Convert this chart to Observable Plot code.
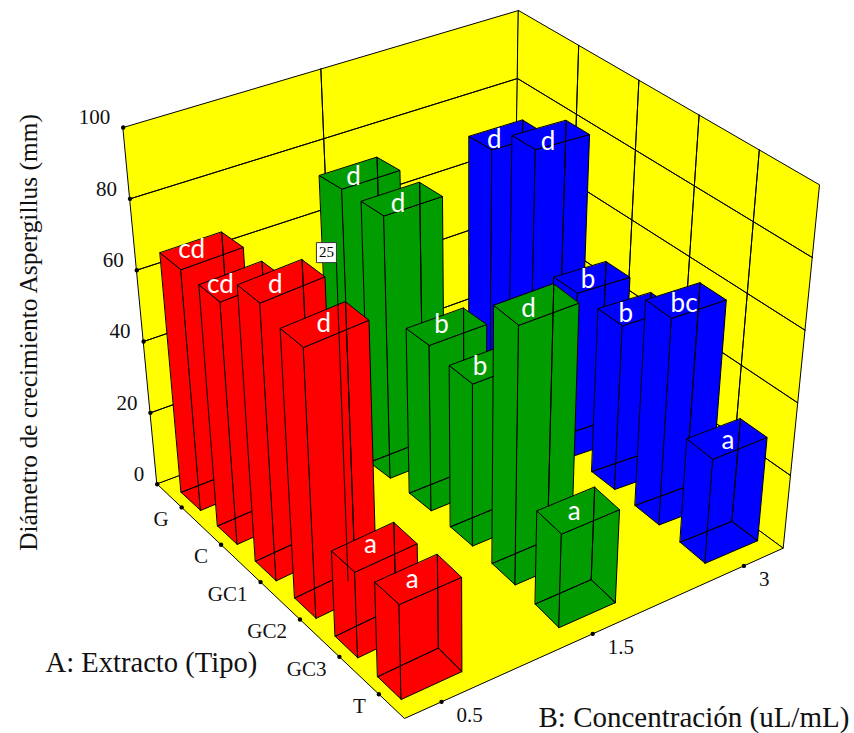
<!DOCTYPE html>
<html>
<head>
<meta charset="utf-8">
<title>Diámetro de crecimiento Aspergillus</title>
<style>html,body{margin:0;padding:0;background:#fff}svg{display:block}</style>
<script src="https://cdn.jsdelivr.net/npm/d3@7"></script>
<script src="https://cdn.jsdelivr.net/npm/@observablehq/plot@0.6"></script>
</head>
<body>
<div id="chart"></div>
<script>
const extractos = ["G","C","GC1","GC2","GC3","T"];
const concentraciones = ["0.5","1.5","3"];
const nivelesZ = [0,20,40,60,80,100];
const rojo  = [67,66.8,75.8,73.2,22.9,25.1];
const verde = [73.8,73.7,46,44.6,70.7,25.2];
const azul  = [71.5,79,46.3,45.9,57.3,28.5];
const letrasRojo  = ["cd","cd","d","d","a","a"];
const letrasVerde = ["d","d","b","b","d","a"];
const letrasAzul  = ["d","d","b","b","bc","a"];
const colores = ["#ff0000","#009c00","#0000ff"];
const series = [rojo,verde,azul];
const letras = [letrasRojo,letrasVerde,letrasAzul];
const bandera = {u:3.77,v:-0.115,w0:15.5,w1:101,texto:"25"};
const uRango=[-0.62,5.65], vRango=[-0.245,2.26], wRango=[0,100];
// depth of the view: bars sit a little off the evenly spaced ticks and grow toward the viewer
const posU=[-0.04,0.88,1.85,2.85,3.89,4.98], posV=[0.03,1.06,2.02];
const medioU=[0.246,0.249,0.263,0.272,0.287,0.301], medioV=[0.2,0.187,0.175];
// hand placement of the letters on the bar tops
const desvX=[[-10,-21,-6,-1,-4,-6],[-6,-4,-5,-10,-8,-4],[-13,-3,-4,-11,-2,1]];
const desvY=[[-0.5,3.5,3.5,-0.5,-3,0],[4,5,-2,2.6,4.4,1],[5,7,3,5,4,2]];

// View: where the eight corners of the cube fall; points inside are blended between them
const esquinas = {
  "000":[156.7,483.7],"100":[404,718],"110":[782.7,547.7],"010":[513,350],
  "001":[122.7,127],"101":[396,338],"111":[819,184.3],"011":[518,10]
};
const combaInterior=[3,-9];
const fu=u=>(u-uRango[0])/(uRango[1]-uRango[0]), fv=v=>(v-vRango[0])/(vRango[1]-vRango[0]);
function proy(u,v,w){
  const U=fu(u),V=fv(v),W=(w-wRango[0])/(wRango[1]-wRango[0]);
  let x=0,y=0;
  for(const a of [0,1]) for(const b of [0,1]) for(const c of [0,1]){
    const k=(a?U:1-U)*(b?V:1-V)*(c?W:1-W), e=esquinas[`${a}${b}${c}`];
    x+=k*e[0]; y+=k*e[1];
  }
  const q=16*U*(1-U)*V*(1-V);
  return {x:x+q*combaInterior[0],y:y+q*combaInterior[1]};
}

const caminos=[]; let idc=0;
function camino(pts,fill){ const id=idc++; for(const p of pts) caminos.push({...proy(...p),id,fill}); }

// walls and floor
const [u0,u1]=uRango,[v0,v1]=vRango;
camino([[u0,v0,0],[u0,v1,0],[u0,v1,100],[u0,v0,100]],"#ffff00");
camino([[u0,v1,0],[u1,v1,0],[u1,v1,100],[u0,v1,100]],"#ffff00");
camino([[u0,v0,0],[u1,v0,0],[u1,v1,0],[u0,v1,0]],"#ffff00");
for(const w of nivelesZ.slice(1,-1)){
  camino([[u0,v0,w],[u0,v1,w]],"none");
  camino([[u0,v1,w],[u1,v1,w]],"none");
}
camino([[u0,(v0+v1)/2,0],[u0,(v0+v1)/2,100]],"none");
for(let i=1;i<5;i++){ const u=u0+(u1-u0)*i/5; camino([[u,v1,0],[u,v1,100]],"none"); }

// bars, far to near
const etiquetas=[];
for(let j=2;j>=0;j--){
  for(let i=0;i<6;i++){
    const h=series[j][i], c=colores[j], cu=posU[i], cv=posV[j];
    const a=cu-medioU[i],b=cu+medioU[i],m=cv-medioV[j],n=cv+medioV[j];
    camino([[a,m,0],[b,m,0],[b,m,h],[a,m,h]],c);
    camino([[b,m,0],[b,n,0],[b,n,h],[b,m,h]],c);
    camino([[a,m,h],[b,m,h],[b,n,h],[a,n,h]],c);
    camino([[a,n,0],[a,n,h]],"none");
    camino([[a,n,0],[a,m,0]],"none");
    camino([[a,n,0],[b,n,0]],"none");
    const q=proy(cu,cv,h);
    etiquetas.push({x:q.x+desvX[j][i],y:q.y+desvY[j][i],t:letras[j][i]});
  }
}
const marcasU=extractos.map((t,i)=>({...proy(i,v0,0),t}));
const marcasV=concentraciones.map((t,j)=>({...proy(u1,j,0),t}));
const marcasW=nivelesZ.map(w=>({...proy(u0,v0,w),t:String(w)}));
const poste=[proy(bandera.u,bandera.v,bandera.w0),proy(bandera.u,bandera.v,bandera.w1)];
const caja=[{...poste[1],t:bandera.texto}];
const serif="Liberation Serif";

const chart=Plot.plot({
  width:854,height:733,margin:0,
  x:{domain:[0,854],range:[0,854],axis:null},
  y:{domain:[0,733],range:[0,733],axis:null},
  color:{type:"identity"},
  style:{background:"#fff"},
  marks:[
    Plot.line(caminos,{x:"x",y:"y",z:"id",fill:"fill",stroke:"#000",strokeWidth:1,curve:"linear-closed"}),
    Plot.text(etiquetas,{x:"x",y:"y",text:"t",fill:"#fff",fontFamily:"Lato",fontSize:26}),
    Plot.line(poste,{x:"x",y:"y",stroke:"#000",strokeWidth:1}),
    Plot.dot(caja,{x:"x",y:"y",symbol:"square",r:11.3,dx:-10,dy:-10,fill:"#fff",stroke:"#333",strokeWidth:1}),
    Plot.text(caja,{x:"x",y:"y",text:"t",dx:-10,dy:-10,fill:"#000",fontFamily:serif,fontSize:15}),
    Plot.dot(marcasU,{x:"x",y:"y",r:2.2,fill:"#000"}),
    Plot.dot(marcasV,{x:"x",y:"y",r:2.2,fill:"#000"}),
    Plot.dot(marcasW,{x:"x",y:"y",r:2.2,fill:"#000"}),
    Plot.text(marcasU,{x:"x",y:"y",text:"t",textAnchor:"end",dx:-13,dy:12,fill:"#111",fontFamily:serif,fontSize:21}),
    Plot.text(marcasV,{x:"x",y:"y",text:"t",textAnchor:"start",dx:15,dy:13,fill:"#111",fontFamily:serif,fontSize:21}),
    Plot.text(marcasW,{x:"x",y:"y",text:"t",textAnchor:"end",dx:-13,dy:-10,fill:"#111",fontFamily:serif,fontSize:21}),
    Plot.text(["Diámetro de crecimiento Aspergillus (mm)"],{frameAnchor:"top-left",dx:28,dy:332,rotate:-90,textAnchor:"middle",lineAnchor:"middle",fill:"#111",fontFamily:serif,fontSize:25.4}),
    Plot.text(["A: Extracto (Tipo)"],{frameAnchor:"top-left",dx:45,dy:662,textAnchor:"start",lineAnchor:"middle",fill:"#111",fontFamily:serif,fontSize:28.6}),
    Plot.text(["B: Concentración (uL/mL)"],{frameAnchor:"top-left",dx:538,dy:717,textAnchor:"start",lineAnchor:"middle",fill:"#111",fontFamily:serif,fontSize:29})
  ]
});
document.getElementById("chart").append(chart);
</script>
</body>
</html>
